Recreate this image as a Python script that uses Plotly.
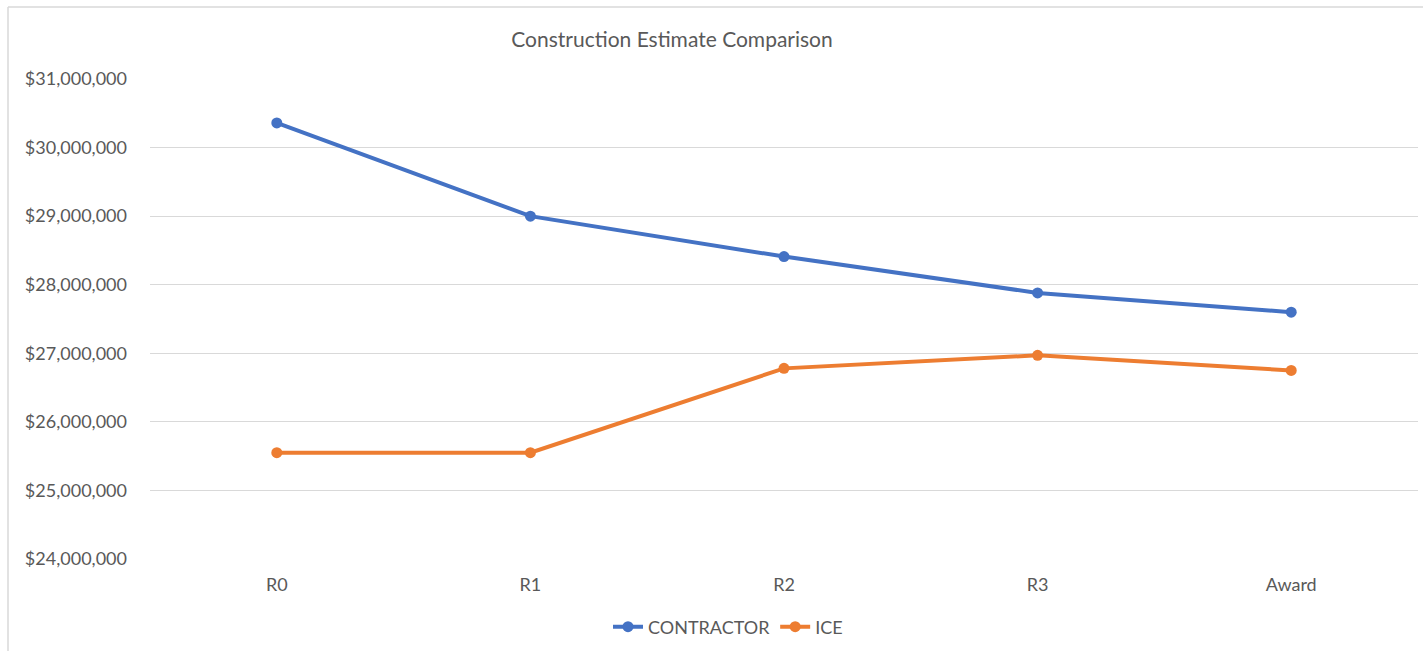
import plotly.graph_objects as go

# Estimate revisions and totals (USD)
stages = ["R0", "R1", "R2", "R3", "Award"]
contractor = [30_360_000, 29_000_000, 28_410_000, 27_880_000, 27_600_000]
ice = [25_550_000, 25_550_000, 26_780_000, 26_970_000, 26_750_000]
y_ticks = [24_000_000, 25_000_000, 26_000_000, 27_000_000, 28_000_000,
           29_000_000, 30_000_000, 31_000_000]

W, H = 1423, 651
L, R, T, B = 150, 5, 79, 92

fig = go.Figure()
fig.add_trace(go.Scatter(
    x=stages, y=contractor, name="CONTRACTOR", mode="lines+markers",
    line=dict(color="#4472C4", width=4), marker=dict(size=11, color="#4472C4"),
))
fig.add_trace(go.Scatter(
    x=stages, y=ice, name="ICE", mode="lines+markers",
    line=dict(color="#ED7D31", width=4), marker=dict(size=11, color="#ED7D31"),
))

pw, ph = W - L - R, H - T - B


def px_x(p):
    return (p - L) / pw


def px_y(p):
    return (H - B - p) / ph


# chart-area frame (left and top edges)
frame = dict(color="#d9d9d9", width=1.5)
fig.add_shape(type="line", xref="paper", yref="paper",
              x0=px_x(8), x1=px_x(1430), y0=px_y(7), y1=px_y(7), line=frame)
fig.add_shape(type="line", xref="paper", yref="paper",
              x0=px_x(8), x1=px_x(8), y0=px_y(7), y1=px_y(660), line=frame)

fig.update_layout(
    width=W, height=H,
    margin=dict(l=L, r=R, t=T, b=B),
    paper_bgcolor="white", plot_bgcolor="white",
    font=dict(family="Lato, Open Sans, sans-serif", color="#595959", size=18),
    title=dict(text="Construction Estimate Comparison",
               x=672 / W, xanchor="center", y=1 - 40 / H, yanchor="middle",
               font=dict(size=21, color="#595959")),
    xaxis=dict(type="category", range=[-0.5, 4.5], showgrid=False,
               showline=False, ticks="", ticklabelstandoff=13,
               tickfont=dict(size=18, color="#595959")),
    yaxis=dict(range=[24_000_000, 31_000_000], tickvals=y_ticks,
               tickformat="$,.0f", showgrid=True, gridcolor="#d9d9d9",
               gridwidth=1, zeroline=False, showline=False, ticks="",
               ticklabelstandoff=22, tickfont=dict(size=18, color="#595959")),
    legend=dict(orientation="h", x=px_x(728), xanchor="center",
                y=px_y(627), yanchor="middle",
                font=dict(size=18, color="#595959"), itemwidth=30,
                traceorder="normal"),
    showlegend=True,
)

fig.write_html("out.html")
